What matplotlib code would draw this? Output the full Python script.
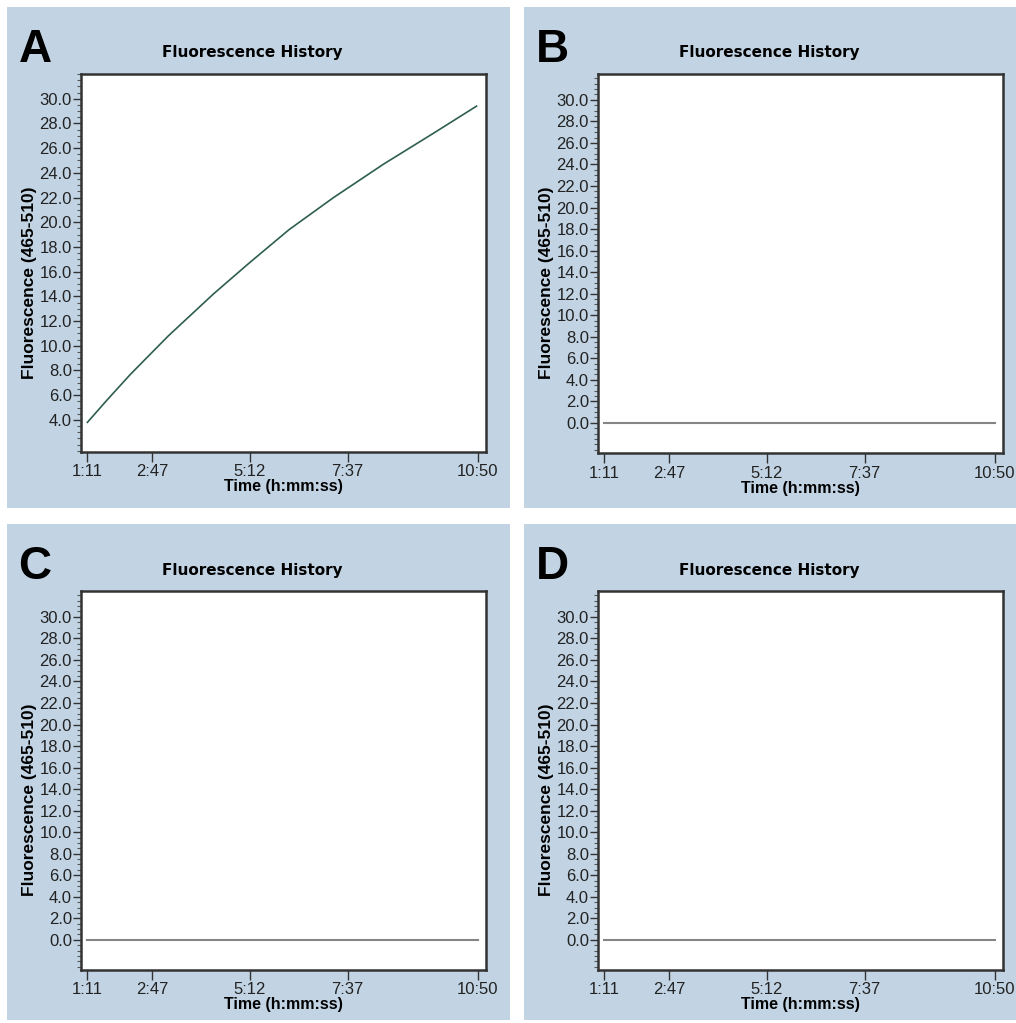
import matplotlib
matplotlib.use("Agg")
import matplotlib.pyplot as plt
from matplotlib.patches import Rectangle
from matplotlib.ticker import MultipleLocator

W, H = 1016, 1023

# data (time in seconds)
tick_secs = [71, 167, 312, 457, 650]
tick_labels = ["1:11", "2:47", "5:12", "7:37", "10:50"]
curve_t = [71, 100, 135, 191, 258, 312, 370, 436, 510, 584, 648]
curve_v = [3.8, 5.6, 7.7, 10.8, 14.2, 16.75, 19.4, 22.0, 24.7, 27.2, 29.4]
flat_t = [71, 650]
flat_v = [0.0, 0.0]

bg = "#c2d4e4"
fig = plt.figure(figsize=(W / 100, H / 100), dpi=100)
fig.patch.set_facecolor("white")


def fx(p):
    return p / W


def fy(p):
    return 1 - p / H


def panel(x0, y0, x1, y1, letter, kind):
    # background box of the panel
    fig.add_artist(Rectangle((fx(x0), fy(y1)), (x1 - x0) / W, (y1 - y0) / H,
                             transform=fig.transFigure, facecolor=bg,
                             edgecolor="none", zorder=0))
    l, t = x0 + 74, y0 + 67
    r = l + 405
    b = t + (378 if kind == "curve" else 379)
    ax = fig.add_axes([fx(l), fy(b), (r - l) / W, (b - t) / H])
    ax.set_facecolor("white")
    if kind == "curve":
        ax.plot(curve_t, curve_v, color="#2e5e4e", lw=1.2)
        ax.set_ylim(1.4, 32.0)
        ax.set_yticks([4 + 2 * i for i in range(14)])
    else:
        ax.plot(flat_t, flat_v, color="#858585", lw=1.5)
        ax.set_ylim(-2.8, 32.4)
        ax.set_yticks([2 * i for i in range(16)])
    ax.yaxis.set_minor_locator(MultipleLocator(0.5))
    ax.set_yticklabels([f"{v:.1f}" for v in ax.get_yticks()],
                       family="Liberation Sans")
    ax.set_xlim(61.5, 662)
    ax.set_xticks(tick_secs)
    ax.set_xticklabels(tick_labels, family="Liberation Sans")
    ax.tick_params(axis="y", which="major", length=6, width=1, pad=0.5,
                   labelsize=12, color="#333333", labelcolor="#222222")
    ax.tick_params(axis="y", which="minor", length=3, width=0.8,
                   color="#555555")
    ax.tick_params(axis="x", length=7, width=1, pad=2, labelsize=12,
                   color="#333333", labelcolor="#222222")
    for s in ax.spines.values():
        s.set_linewidth(1.8)
        s.set_color("#333333")

    fig.text(fx(x0 + 28), fy(y0 + 55), letter, fontsize=33, fontweight="bold",
             family="Liberation Sans", ha="center", va="baseline")
    fig.text(fx(l + 171), fy(y0 + 46), "Fluorescence History", fontsize=11,
             fontweight="bold", family="DejaVu Sans", ha="center",
             va="center")
    fig.text(fx((l + r) / 2), fy(b + 35), "Time (h:mm:ss)", fontsize=11.5,
             fontweight="bold", family="Liberation Sans", ha="center",
             va="center")
    fig.text(fx(x0 + 23), fy(y0 + 276), "Fluorescence (465-510)",
             fontsize=12.5, fontweight="bold", family="Liberation Sans",
             ha="center", va="center", rotation=90)
    return ax


panel(7, 7, 510, 508, "A", "curve")
panel(524, 7, 1016, 508, "B", "flat")
panel(7, 524, 510, 1020, "C", "flat")
panel(524, 524, 1016, 1020, "D", "flat")

fig.savefig("out.png", dpi=100)
